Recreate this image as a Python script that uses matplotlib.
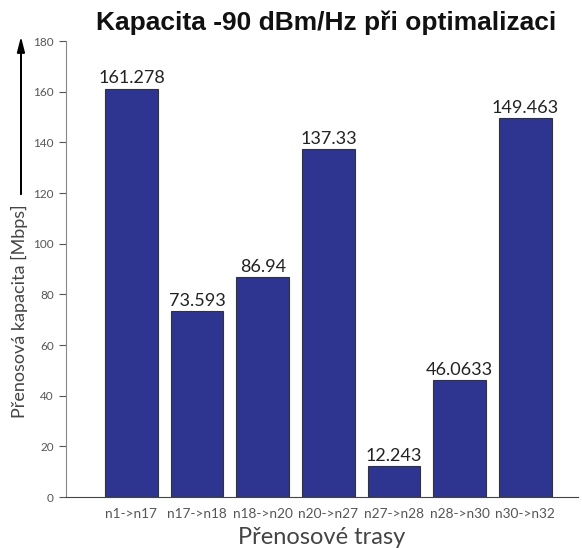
import matplotlib
matplotlib.use("Agg")
import matplotlib.pyplot as plt

# trasy a jejich kapacity [Mbps]
routes = ["n1->n17", "n17->n18", "n18->n20", "n20->n27",
          "n27->n28", "n28->n30", "n30->n32"]
capacity = [161.278, 73.593, 86.94, 137.33, 12.243, 46.0633, 149.463]
value_labels = ["161.278", "73.593", "86.94", "137.33", "12.243", "46.0633", "149.463"]
y_ticks = [0, 20, 40, 60, 80, 100, 120, 140, 160, 180]

BAR_COLOR = "#2e3590"
GRAY = "#555555"

plt.rcParams["font.family"] = ["Lato", "DejaVu Sans"]

fig = plt.figure(figsize=(5.82, 5.48), dpi=100)
ax = fig.add_axes([0.113, 0.093, 0.88, 0.832])

x = list(range(1, len(routes) + 1))
bars = ax.bar(x, capacity, width=0.8, color=BAR_COLOR,
              edgecolor="#333333", linewidth=0.8)

for xi, v, lab in zip(x, capacity, value_labels):
    ax.text(xi, v + 0.8, lab, ha="center", va="bottom",
            fontsize=13, color="#222222")

ax.set_xlim(0, 7.8)
ax.set_ylim(0, 180)
ax.set_xticks(x)
ax.set_xticklabels(routes, fontsize=9.8, color=GRAY)
ax.set_yticks(y_ticks)
ax.set_yticklabels([str(t) for t in y_ticks], fontsize=8.5, color=GRAY)
ax.tick_params(axis="x", length=0, pad=8)
ax.tick_params(axis="y", direction="out", length=5, color=GRAY, width=0.8)

for side in ["top", "right"]:
    ax.spines[side].set_visible(False)
ax.spines["left"].set_color("#888888")
ax.spines["bottom"].set_color("#444444")

ax.set_xlabel("Přenosové trasy", fontsize=17, color="#444444", labelpad=5)

# popisek osy y se šipkou nahoru
fig.text(0.033, 0.432, "Přenosová kapacita [Mbps]", rotation=90,
         ha="center", va="center", fontsize=13, color="#444444")
fig.patches.append(matplotlib.patches.FancyArrow(
    0.036, 0.645, 0, 0.283, width=0.0005, head_width=0.012,
    head_length=0.025, length_includes_head=True,
    transform=fig.transFigure, color="black"))

fig.text(0.56, 0.958, "Kapacita -90 dBm/Hz při optimalizaci",
         ha="center", va="center", fontsize=19, fontweight="bold",
         family=["Liberation Sans", "DejaVu Sans"], color="#111111")

fig.savefig("out.png", dpi=100)
